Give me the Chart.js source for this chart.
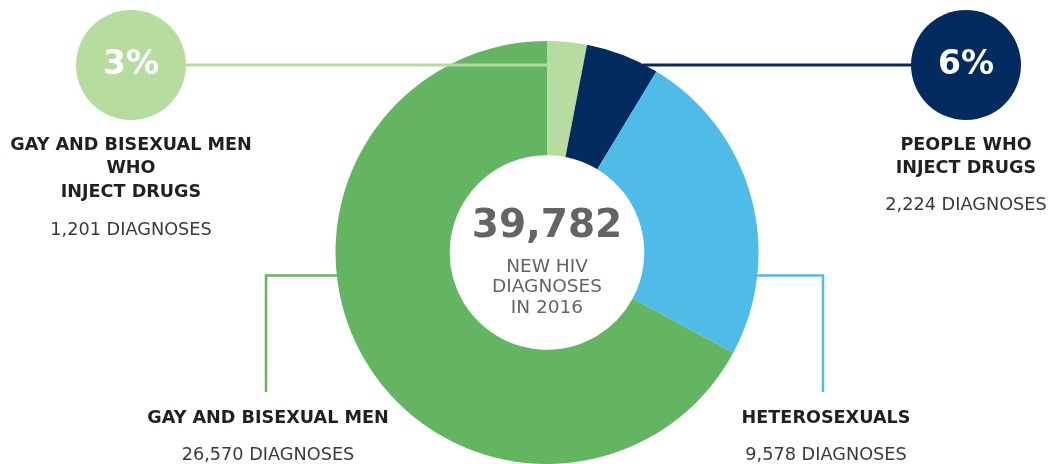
<!DOCTYPE html>
<html>
<head>
<meta charset="utf-8">
<script src="https://cdn.jsdelivr.net/npm/chart.js@4.4.1/dist/chart.umd.min.js"></script>
<style>
  html, body { margin: 0; padding: 0; background: #fff; }
  #wrap { width: 1053px; height: 464px; position: relative; }
</style>
</head>
<body>
<div id="wrap"><canvas id="hivChart"></canvas></div>
<script>
// Data
const groups = ["GAY AND BISEXUAL MEN WHO INJECT DRUGS", "PEOPLE WHO INJECT DRUGS", "HETEROSEXUALS", "GAY AND BISEXUAL MEN"];
const diagnoses = [1201, 2224, 9578, 26570];
const diagnosisText = ["1,201 DIAGNOSES", "2,224 DIAGNOSES", "9,578 DIAGNOSES", "26,570 DIAGNOSES"];
const totalDiagnoses = 39782;
const centerText = ["NEW HIV", "DIAGNOSES", "IN 2016"];
const colors = ["#b7dc9f", "#032b60", "#4fbbe9", "#63b562"];

const FONT = "'DejaVu Sans', sans-serif";
const DARK = "#231f20";

// Callouts: circles for the two small groups, elbow lines for the big ones
const calloutPlugin = {
    id: "callouts",
    afterDatasetsDraw(chart) {
        const ctx = chart.ctx;
        const arcs = chart.getDatasetMeta(0).data;
        const cx = arcs[0].x;
        const cy = arcs[0].y;
        const r = arcs[0].outerRadius;

        ctx.save();

        // light green line: bubble to start of its slice (runs over green)
        const yTop = 65;
        ctx.strokeStyle = colors[0];
        ctx.lineWidth = 3;
        ctx.beginPath();
        ctx.moveTo(185, yTop);
        ctx.lineTo(cx, yTop);
        ctx.stroke();

        // navy line: ring edge to bubble
        const dx = Math.sqrt(r * r - (cy - yTop) * (cy - yTop));
        ctx.strokeStyle = colors[1];
        ctx.beginPath();
        ctx.moveTo(cx + dx - 2, yTop);
        ctx.lineTo(912, yTop);
        ctx.stroke();

        // elbow lines
        const yMid = 275.5;
        const dm = Math.sqrt(r * r - (cy - yMid) * (cy - yMid));
        ctx.lineWidth = 2.5;
        ctx.strokeStyle = colors[3];
        ctx.beginPath();
        ctx.moveTo(cx - dm + 2, yMid);
        ctx.lineTo(266, yMid);
        ctx.lineTo(266, 392);
        ctx.stroke();

        ctx.strokeStyle = colors[2];
        ctx.beginPath();
        ctx.moveTo(cx + dm - 2, yMid);
        ctx.lineTo(823, yMid);
        ctx.lineTo(823, 392);
        ctx.stroke();

        // bubbles
        const bubbles = [[131, 65, 0], [966, 65, 1]];
        bubbles.forEach(([bx, by, i]) => {
            ctx.fillStyle = colors[i];
            ctx.beginPath();
            ctx.arc(bx, by, 55, 0, Math.PI * 2);
            ctx.fill();
            ctx.fillStyle = "#fff";
            ctx.font = "bold 33px " + FONT;
            ctx.textAlign = "center";
            ctx.textBaseline = "middle";
            const pct = Math.round(diagnoses[i] / totalDiagnoses * 100) + "%";
            ctx.fillText(pct, bx, by);
        });

        // labels
        ctx.textAlign = "center";
        ctx.textBaseline = "middle";
        const bold = (t, x, y) => {
            ctx.font = "bold 17.6px " + FONT;
            ctx.fillStyle = DARK;
            ctx.fillText(t, x, y);
        };
        const plain = (t, x, y) => {
            ctx.font = "17.7px " + FONT;
            ctx.fillStyle = "#3a3a3c";
            ctx.fillText(t, x, y);
        };

        bold("GAY AND BISEXUAL MEN", 131, 145);
        bold("WHO", 131, 168);
        bold("INJECT DRUGS", 131, 192);
        plain(diagnosisText[0], 131, 230);

        bold("PEOPLE WHO", 966, 145);
        bold("INJECT DRUGS", 966, 168);
        plain(diagnosisText[1], 966, 205);

        bold("GAY AND BISEXUAL MEN", 268, 418);
        plain(diagnosisText[3], 268, 455);

        bold("HETEROSEXUALS", 826, 418);
        plain(diagnosisText[2], 826, 455);

        // center
        ctx.fillStyle = "#636466";
        ctx.font = "bold 39px " + FONT;
        ctx.fillText(totalDiagnoses.toLocaleString("en-US"), cx, 227);
        ctx.font = "18.5px " + FONT;
        centerText.forEach((t, i) => {
            ctx.fillText(t, cx, 267 + i * 20.5);
        });

        ctx.restore();
    }
};

new Chart(document.getElementById("hivChart"), {
    type: "doughnut",
    data: {
        labels: groups,
        datasets: [{
            data: diagnoses,
            backgroundColor: colors,
            borderWidth: 0
        }]
    },
    options: {
        responsive: true,
        maintainAspectRatio: false,
        animation: false,
        cutout: "46%",
        layout: {
            padding: { top: 41, bottom: -1, left: 300, right: 259 }
        },
        plugins: {
            legend: { display: false },
            tooltip: { enabled: false }
        }
    },
    plugins: [calloutPlugin]
});
</script>
</body>
</html>
